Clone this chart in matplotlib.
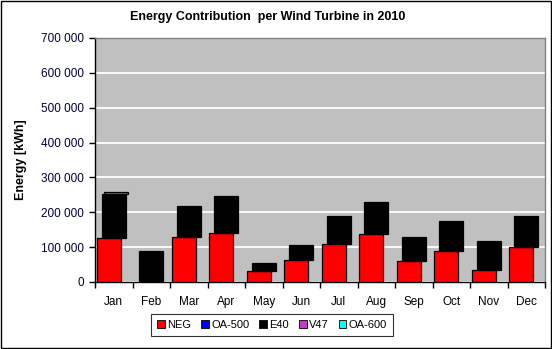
import matplotlib
matplotlib.use("Agg")
import matplotlib.pyplot as plt
from matplotlib.patches import Patch, Rectangle
from matplotlib.ticker import FuncFormatter, MultipleLocator
import numpy as np

plt.rcParams['font.family'] = ['Liberation Sans', 'DejaVu Sans']

months = ["Jan", "Feb", "Mar", "Apr", "May", "Jun",
          "Jul", "Aug", "Sep", "Oct", "Nov", "Dec"]

neg = [126600, 0, 129400, 140900, 32300, 63700,
       109400, 138000, 60900, 89400, 35100, 100900]
oa500 = [0, 0, 0, 0, 0, 0, 0, 0, 0, 0, 0, 0]
e40 = [125700, 89400, 88600, 105700, 22800, 42900,
       80000, 91400, 68500, 85700, 82900, 88500]
v47 = [5000, 0, 0, 0, 0, 0, 0, 0, 0, 0, 0, 0]
oa600 = [0, 0, 0, 0, 0, 0, 0, 0, 0, 0, 0, 0]

series = [
    ("NEG", neg, "#FF0000", -0.134),
    ("OA-500", oa500, "#0000FF", -0.067),
    ("E40", e40, "#000000", 0.0),
    ("V47", v47, "#CC33CC", 0.053),
    ("OA-600", oa600, "#00FFFF", 0.107),
]

fig = plt.figure(figsize=(5.52, 3.49), dpi=100)
fig.patch.set_facecolor("white")
fig.patches.append(Rectangle((0.001, 0.002), 0.997, 0.995, transform=fig.transFigure,
                             fill=False, edgecolor="black", linewidth=1.0))

ax = fig.add_axes([95 / 552, 1 - 282 / 349, 450 / 552, 244 / 349])
ax.set_facecolor("#C0C0C0")

x = np.arange(len(months)) + 0.5
width = 0.64
bottom = np.zeros(len(months))
for name, vals, color, off in series:
    vals = np.array(vals, dtype=float)
    lw = [0.9 if v > 0 else 0 for v in vals]
    ax.bar(x + off, vals, width=width, bottom=bottom, color=color,
           edgecolor="black", linewidth=lw, zorder=3)
    bottom += vals

ax.set_xlim(0, 12)
ax.set_ylim(0, 700000)
ax.yaxis.set_major_locator(MultipleLocator(100000))
ax.yaxis.set_major_formatter(FuncFormatter(lambda v, p: f"{int(v):,}".replace(",", " ")))
ax.grid(axis="y", color="white", linewidth=1.3, zorder=1)
ax.set_axisbelow(True)

ax.set_xticks(np.arange(0, 13))
ax.set_xticklabels([])
ax.set_xticks(x, minor=True)
ax.set_xticklabels(months, minor=True)
ax.tick_params(axis="x", which="minor", length=0, pad=10, labelsize=8.5, labelcolor="black")
ax.tick_params(axis="x", which="major", length=4, width=1, color="black", direction="out")
ax.tick_params(axis="y", length=4, width=1, color="black", direction="out",
               labelsize=8.5, labelcolor="#000040", pad=4)

for s in ["top", "right"]:
    ax.spines[s].set_color("#808080")
    ax.spines[s].set_linewidth(1)
for s in ["left", "bottom"]:
    ax.spines[s].set_color("black")
    ax.spines[s].set_linewidth(1)

ax.set_ylabel("Energy [kWh]", fontsize=9, fontweight="bold", labelpad=10)
fig.text(268 / 552, 1 - 17 / 349,
         "Energy Contribution  per Wind Turbine in 2010",
         ha="center", va="center", fontsize=9, fontweight="bold")

handles = [Patch(facecolor=c, edgecolor="black", linewidth=0.6, label=n)
           for n, _, c, _ in series]
leg = fig.legend(handles=handles, loc="center", bbox_to_anchor=(272 / 552, 1 - 325 / 349),
                 ncol=5, fontsize=8, frameon=True, fancybox=False,
                 handlelength=0.7, handleheight=0.7, handletextpad=0.2,
                 columnspacing=0.9, borderpad=0.55)
leg.get_frame().set_edgecolor("black")
leg.get_frame().set_linewidth(0.8)

fig.savefig("out.png", dpi=100)
